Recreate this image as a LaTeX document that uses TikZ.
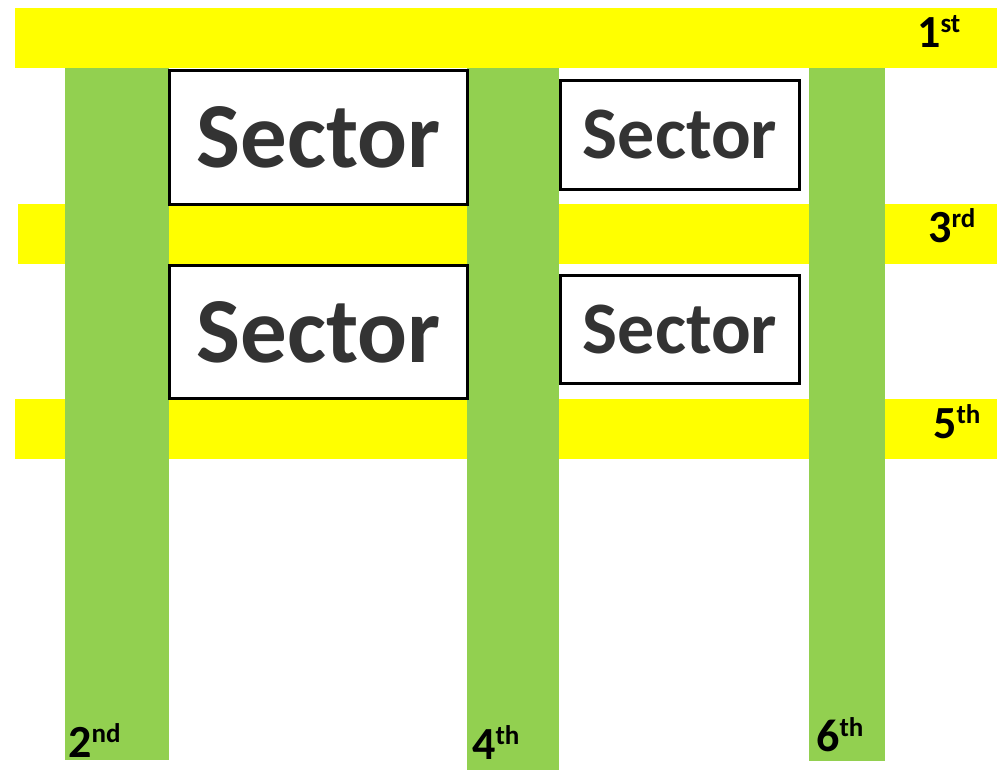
\documentclass[tikz,border=0pt]{standalone}
\usepackage{fontspec}
\setmainfont{Carlito}
\usetikzlibrary{positioning}
\definecolor{barYellow}{HTML}{FFFF00}
\definecolor{barGreen}{HTML}{92D050}
\tikzstyle{hbar} = [fill=barYellow]
\tikzstyle{vbar} = [fill=barGreen]
\tikzstyle{sector} = [rectangle, draw=black, line width=3pt, fill=white, text=black!80, inner sep=0pt]
\tikzstyle{floorlabel} = [anchor=base west, inner sep=0pt, font=\fontsize{46}{46}\selectfont\bfseries]
\newcommand{\ordsup}[1]{\raisebox{15pt}{\fontsize{27}{27}\selectfont #1}}

\begin{document}
\begin{tikzpicture}[x=1pt, y=-1pt]
    \useasboundingbox (0,0) rectangle (997,770);
    % floors
    \fill[hbar] (15,8) rectangle (997,68);
    \fill[hbar] (18,204) rectangle (997,264);
    \fill[hbar] (15,399) rectangle (997,459);
    % columns
    \fill[vbar] (65,68) rectangle (169,760);
    \fill[vbar] (467,68) rectangle (559,770);
    \fill[vbar] (809,68) rectangle (885,761);

    \node (sectorA) [sector, minimum width=298pt, minimum height=134pt, font=\fontsize{93}{93}\selectfont\bfseries] at (318.5,137.5) {Sector};
    \node (sectorB) [sector, minimum width=239pt, minimum height=109pt, font=\fontsize{74}{74}\selectfont\bfseries] at (680,135) {Sector};
    \node (sectorC) [sector, minimum width=298pt, minimum height=133pt, font=\fontsize{93}{93}\selectfont\bfseries, below=58pt of sectorA] {Sector};
    \node (sectorD) [sector, minimum width=239pt, minimum height=108pt, font=\fontsize{74}{74}\selectfont\bfseries, below=83pt of sectorB] {Sector};

    \node (first) [floorlabel] at (917,48) {1\ordsup{st}};
    \node (third) [floorlabel] at (928,243) {3\ordsup{rd}};
    \node (fifth) [floorlabel] at (933,438) {5\ordsup{th}};
    \node (second) [floorlabel] at (68,757) {2\ordsup{nd}};
    \node (fourth) [floorlabel] at (472,759) {4\ordsup{th}};
    \node (sixth) [floorlabel] at (816,751) {6\ordsup{th}};
\end{tikzpicture}
\end{document}
